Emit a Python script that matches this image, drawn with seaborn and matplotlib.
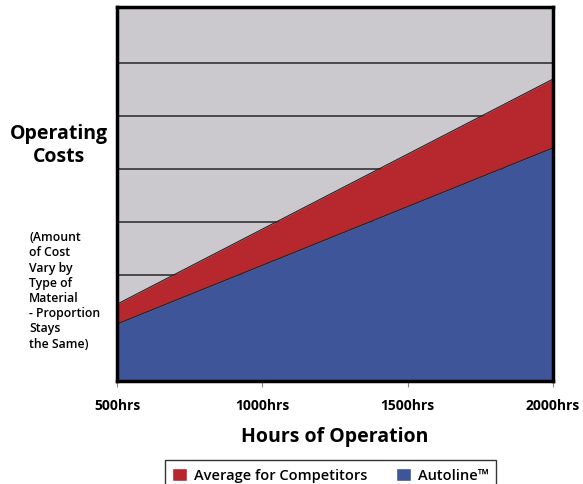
import pandas as pd
import matplotlib.pyplot as plt
import seaborn as sns
from matplotlib.patches import Patch

# data (cost in arbitrary grid units)
hours = [500, 2000]
autoline = [1.075, 4.40]
competitors = [1.45, 5.70]
tick_labels = ['500hrs', '1000hrs', '1500hrs', '2000hrs']
tick_pos = [500, 1000, 1500, 2000]

df = pd.DataFrame({'Hours': hours, 'Autoline': autoline, 'Competitors': competitors})

sns.set_style('white')
plt.rcParams['font.family'] = ['Open Sans', 'DejaVu Sans']
plt.rcParams['text.color'] = 'black'
plt.rcParams['axes.labelcolor'] = 'black'
plt.rcParams['xtick.color'] = 'black'

RED = '#b7282e'
BLUE = '#3e5599'
GRAY = '#cbc9ce'

fig = plt.figure(figsize=(5.83, 4.85), dpi=100)
ax = fig.add_axes([0.2007, 0.2124, 0.748, 0.7711])
ax.set_facecolor(GRAY)

ax.fill_between(df['Hours'], df['Autoline'], df['Competitors'], color=RED, lw=0, zorder=2)
ax.fill_between(df['Hours'], 0, df['Autoline'], color=BLUE, lw=0, zorder=2)
sns.lineplot(data=df, x='Hours', y='Competitors', color='#222222', lw=0.8, ax=ax, zorder=3)
sns.lineplot(data=df, x='Hours', y='Autoline', color='#222222', lw=0.8, ax=ax, zorder=3)

for g in range(1, 7):
    ax.axhline(g, color='#333333', lw=1.2, zorder=1)

ax.set_xlim(500, 2000)
ax.set_ylim(0, 7.06)
ax.set_yticks([])
ax.set_xticks(tick_pos)
ax.set_xticklabels(tick_labels, fontsize=10, fontweight='bold')
ax.tick_params(axis='x', bottom=True, length=4, width=0.8, color='#888888', pad=8)
for s in ax.spines.values():
    s.set_color('black')
    s.set_linewidth(2.5)
    s.set_zorder(5)

ax.set_xlabel('Hours of Operation', fontsize=14, fontweight='bold', labelpad=10)
ax.set_ylabel('')

fig.text(0.101, 0.70, 'Operating\nCosts', fontsize=14, fontweight='bold',
         ha='center', va='center', linespacing=1.2)
fig.text(0.05, 0.40, '(Amount\nof Cost\nVary by\nType of\nMaterial\n- Proportion\nStays\nthe Same)',
         fontsize=8.8, fontweight='semibold', ha='left', va='center', linespacing=1.22)

handles = [Patch(facecolor=RED, label='Average for Competitors'),
           Patch(facecolor=BLUE, label='Autoline™')]
leg = fig.legend(handles=handles, loc='upper center', bbox_to_anchor=(0.567, 0.064),
                 ncol=2, frameon=True, fancybox=False, edgecolor='black',
                 prop={'size': 10.5, 'weight': 'semibold'},
                 handlelength=1.0, handleheight=1.0, handletextpad=0.5,
                 columnspacing=2.0, borderpad=0.5)
leg.get_frame().set_linewidth(1.0)

fig.savefig('out.png', dpi=100)
